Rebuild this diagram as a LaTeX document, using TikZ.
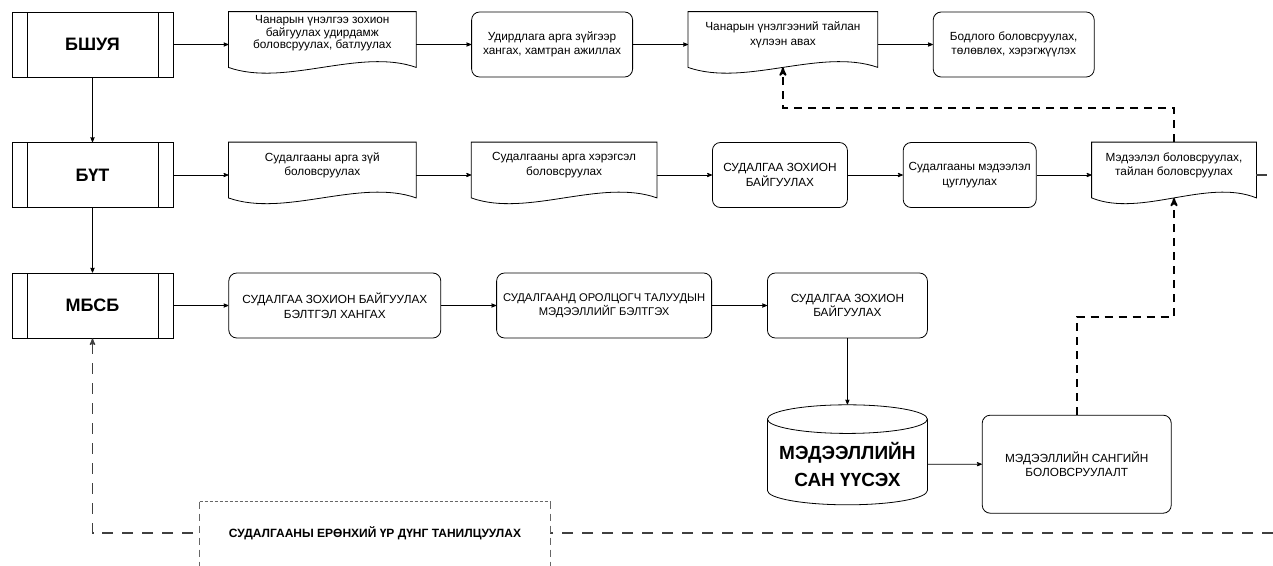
\documentclass[tikz,border=0pt]{standalone}
\usepackage{fontspec}
\setmainfont{Liberation Sans}
\usetikzlibrary{arrows,positioning,shapes.geometric,calc}

\begin{document}
\begin{tikzpicture}[x=1pt,y=-1pt,->,>=stealth',node distance=55pt,line width=0.8pt,
  every node/.style={align=center,font=\fontsize{11.8}{14.5}\selectfont},
  lane/.style={draw,minimum width=161pt,minimum height=65pt,
    font=\bfseries\fontsize{18}{20}\selectfont,
    path picture={
      \draw[-] ([xshift=15pt]path picture bounding box.north west) -- ([xshift=15pt]path picture bounding box.south west);
      \draw[-] ([xshift=-15pt]path picture bounding box.north east) -- ([xshift=-15pt]path picture bounding box.south east);}},
  proc/.style={draw,rounded corners=8pt,inner xsep=1pt,minimum width=#1,minimum height=65pt},
  doc/.style={minimum width=#1,minimum height=65pt,inner ysep=0pt,text depth=22pt,
    append after command={\pgfextra{\draw[-]
      (\tikzlastnode.north west) -- (\tikzlastnode.north east)
      -- ($(\tikzlastnode.south east)+(0,10pt)$)
      .. controls ($(\tikzlastnode.south east)!0.3!(\tikzlastnode.south west)+(0,30pt)$)
      and ($(\tikzlastnode.south west)!0.3!(\tikzlastnode.south east)+(0,-10pt)$)
      .. ($(\tikzlastnode.south west)+(0,10pt)$) -- cycle;}}},
  store/.style={draw,cylinder,shape border rotate=90,aspect=0.2,
    minimum width=160pt,minimum height=100pt,
    font=\bfseries\fontsize{19}{27}\selectfont},
  fb/.style={dash pattern=on 8pt off 6pt,line width=1.8pt},
  res/.style={dash pattern=on 11pt off 9pt,line width=1.3pt,black!75}]

  \useasboundingbox (0,0) rectangle (1273,565);
  \clip (0,0) rectangle (1273,565);
  \fill[white] (0,0) rectangle (1273,565);

  % first row
  \node[lane] (bshuya) at (92.5,44.5) {БШУЯ};
  \node[doc=187pt,text depth=25pt,font=\fontsize{11.8}{12.5}\selectfont,right=of bshuya] (guide)
    {Чанарын үнэлгээ зохион\\байгуулах удирдамж\\боловсруулах, батлуулах};
  \node[proc=161pt,right=of guide] (support) {Удирдлага арга зүйгээр\\хангах, хамтран ажиллах};
  \node[doc=189pt,right=of support] (qreport) {Чанарын үнэлгээний тайлан\\хүлээн авах};
  \node[proc=161pt,right=of qreport] (policy) {Бодлого боловсруулах,\\төлөвлөх, хэрэгжүүлэх};

  % second row
  \node[lane] (but) at (92.5,175) {БҮТ};
  \node[doc=187pt,right=of but] (method) {Судалгааны арга зүй\\боловсруулах};
  \node[doc=185pt,right=of method] (tools) {Судалгааны арга хэрэгсэл\\боловсруулах};
  \node[proc=135pt,right=of tools] (organize) {СУДАЛГАА ЗОХИОН\\БАЙГУУЛАХ};
  \node[proc=133pt,right=of organize] (collect) {Судалгааны мэдээлэл\\цуглуулах};
  \node[doc=164pt,right=of collect] (report) {Мэдээлэл боловсруулах,\\тайлан боловсруулах};

  % third row
  \node[lane] (mbsb) at (92.5,305.5) {МБСБ};
  \node[proc=212pt,right=of mbsb] (prepare) {СУДАЛГАА ЗОХИОН БАЙГУУЛАХ\\БЭЛТГЭЛ ХАНГАХ};
  \node[proc=215pt,font=\fontsize{11.2}{14.5}\selectfont,right=of prepare] (parties)
    {СУДАЛГААНД ОРОЛЦОГЧ ТАЛУУДЫН\\МЭДЭЭЛЛИЙГ БЭЛТГЭХ};
  \node[proc=160pt,right=of parties] (conduct) {СУДАЛГАА ЗОХИОН\\БАЙГУУЛАХ};
  \node[store,below=66pt of conduct] (database) {МЭДЭЭЛЛИЙН\\САН ҮҮСЭХ};
  \node[proc=189pt,minimum height=98pt,right=54pt of database] (dbwork) {МЭДЭЭЛЛИЙН САНГИЙН\\БОЛОВСРУУЛАЛТ};

  \path (bshuya) edge (guide);
  \path (guide) edge (support);
  \path (support) edge (qreport);
  \path (qreport) edge (policy);
  \path (bshuya) edge (but);
  \path (but) edge (method);
  \path (method) edge (tools);
  \path (tools) edge (organize);
  \path (organize) edge (collect);
  \path (collect) edge (report);
  \path (but) edge (mbsb);
  \path (mbsb) edge (prepare);
  \path (prepare) edge (parties);
  \path (parties) edge (conduct);
  \path (conduct) edge (database);
  \path (database) edge (dbwork);

  % feedback
  \draw[fb] (report.north) -- ++(0,-34) -| ([yshift=10pt]qreport.south);
  \draw[fb] (dbwork.north) -- ++(0,-98) -| ([yshift=10pt]report.south);

  % results line
  \coordinate (edge) at (1273,533);
  \draw[res] (edge) -| (mbsb);
  \draw[res,-] (report.east) -- (report.east -| edge);
  \node[minimum width=350pt,minimum height=62pt,fill=white,
    font=\bfseries\fontsize{12}{14}\selectfont] (intro) at (375,533)
    {СУДАЛГААНЫ ЕРӨНХИЙ ҮР ДҮНГ ТАНИЛЦУУЛАХ};
  \draw[-,black!60,line width=0.7pt,dash pattern=on 3pt off 2pt] (intro.north west) -- (intro.north east);
  \draw[-,black!60,line width=0.7pt,dash pattern=on 7pt off 5pt] (intro.north west) -- ([yshift=-5pt]intro.south west);
  \draw[-,black!60,line width=0.7pt,dash pattern=on 7pt off 5pt] (intro.north east) -- ([yshift=-5pt]intro.south east);

\end{tikzpicture}
\end{document}
